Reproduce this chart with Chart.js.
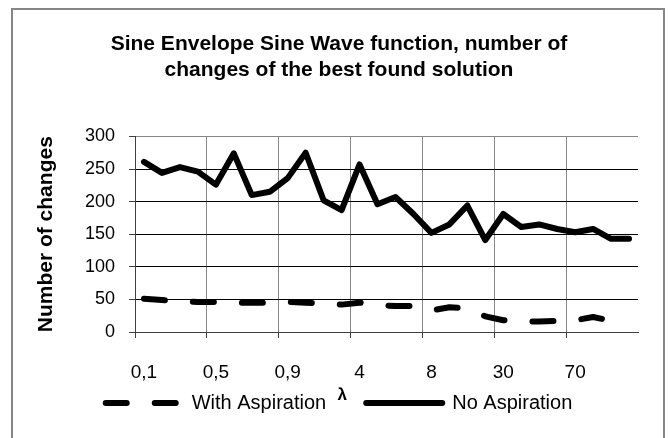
<!DOCTYPE html>
<html>
<head>
<meta charset="utf-8">
<script src="https://cdn.jsdelivr.net/npm/chart.js@4/dist/chart.umd.min.js"></script>
<style>
    body { margin: 0; background: #fff; }
    #wrap { position: absolute; left: 0; top: 0; width: 670px; height: 438px; }
    #frame { position: absolute; left: 11px; top: 8px; width: 654px; height: 450px; border: 2px solid #868686; box-sizing: border-box; }
</style>
</head>
<body>
<div id="frame"></div>
<div id="wrap"><canvas id="chart"></canvas></div>
<script>
// lambda values on the category axis
const lambdas = [0.1, 0.2, 0.3, 0.4, 0.5, 0.6, 0.7, 0.8, 0.9,
    1, 2, 3, 4, 5, 6, 7, 8, 9,
    10, 20, 30, 40, 50, 60, 70, 80, 90, 100];

// number of changes of the best found solution
const withAspiration = [51, 49, 47, 46, 46, 45, 45, 45, 46, 45, 44, 42, 45, 41,
    40, 40, 33, 38, 36, 24, 18, 16, 16, 17, 18, 23, 17, 17];
const noAspiration = [261, 244, 253, 246, 226, 274, 210, 215, 236, 275, 202, 187, 257, 196,
    207, 181, 152, 165, 194, 141, 181, 161, 165, 158, 153, 158, 143, 143];

const yTicks = [0, 50, 100, 150, 200, 250, 300];

Chart.defaults.font.family = "'Liberation Sans', Arial, sans-serif";
Chart.defaults.color = '#000';

// lambda symbol sits between the two legend entries
const lambdaLabel = {
    id: 'lambdaLabel',
    afterDraw(chart) {
        const boxes = chart.legend.legendHitBoxes;
        if (!boxes || boxes.length < 2) return;
        const x = (boxes[0].left + boxes[0].width + boxes[1].left) / 2 - 4;
        const ctx = chart.ctx;
        ctx.save();
        ctx.font = "bold 17px 'Liberation Sans', Arial, sans-serif";
        ctx.fillStyle = '#000';
        ctx.textAlign = 'center';
        ctx.textBaseline = 'middle';
        ctx.fillText('λ', x, 395);
        ctx.restore();
    }
};

const ctx = document.getElementById('chart').getContext('2d');
new Chart(ctx, {
    type: 'line',
    data: {
        labels: lambdas.map(v => String(v).replace('.', ',')),
        datasets: [
            {
                label: 'With Aspiration',
                data: withAspiration,
                borderColor: '#000',
                backgroundColor: '#000',
                borderWidth: 6,
                borderDash: [21, 28],
                borderCapStyle: 'round',
                borderJoinStyle: 'round',
                pointRadius: 0,
                tension: 0
            },
            {
                label: 'No Aspiration',
                data: noAspiration,
                borderColor: '#000',
                backgroundColor: '#000',
                borderWidth: 6,
                borderCapStyle: 'round',
                borderJoinStyle: 'round',
                pointRadius: 0,
                tension: 0
            }
        ]
    },
    options: {
        responsive: true,
        maintainAspectRatio: false,
        animation: false,
        layout: { padding: { left: 40, right: 32, top: 8, bottom: 15 } },
        plugins: {
            title: {
                display: true,
                text: ['Sine Envelope Sine Wave function, number of', 'changes of the best found solution'],
                font: { size: 21, weight: 'bold', lineHeight: 1.2 },
                padding: { top: 24, bottom: 54 }
            },
            legend: {
                position: 'bottom',
                labels: {
                    usePointStyle: true,
                    pointStyle: 'line',
                    pointStyleWidth: 76,
                    boxHeight: 20,
                    padding: 40,
                    font: { size: 20 },
                    generateLabels(chart) {
                        const items = Chart.defaults.plugins.legend.labels.generateLabels(chart);
                        items.forEach(item => {
                            const ds = chart.data.datasets[item.datasetIndex];
                            item.lineDash = ds.borderDash || [];
                            item.lineCap = 'round';
                            item.lineWidth = 6;
                        });
                        return items;
                    }
                }
            },
            tooltip: { enabled: false }
        },
        scales: {
            x: {
                offset: true,
                afterFit(scale) { scale.height = 21; },
                grid: {
                    offset: true,
                    tickLength: 6,
                    color: c => c.index % 4 === 0 ? '#868686' : 'rgba(0,0,0,0)',
                    tickColor: c => c.index % 4 === 0 ? '#404040' : 'rgba(0,0,0,0)'
                },
                border: { color: '#404040' },
                ticks: {
                    autoSkip: false,
                    maxRotation: 0,
                    mirror: true,
                    padding: -52,
                    font: { size: 19 },
                    callback(value, index) { return index % 4 === 0 ? this.getLabelForValue(value) : ''; }
                }
            },
            y: {
                min: yTicks[0],
                max: yTicks[yTicks.length - 1],
                afterFit(scale) { scale.width = 95; },
                afterBuildTicks(scale) { scale.ticks = yTicks.map(v => ({ value: v })); },
                grid: {
                    tickLength: 6,
                    color: c => c.tick && c.tick.value === 300 ? '#868686' : '#000',
                    tickColor: '#404040'
                },
                border: { color: '#404040' },
                ticks: { padding: 14, font: { size: 18 } },
                title: {
                    display: true,
                    text: 'Number of changes',
                    font: { size: 21, weight: 'bold' },
                    padding: { top: -6, bottom: 0 }
                }
            }
        }
    },
    plugins: [lambdaLabel]
});
</script>
</body>
</html>
